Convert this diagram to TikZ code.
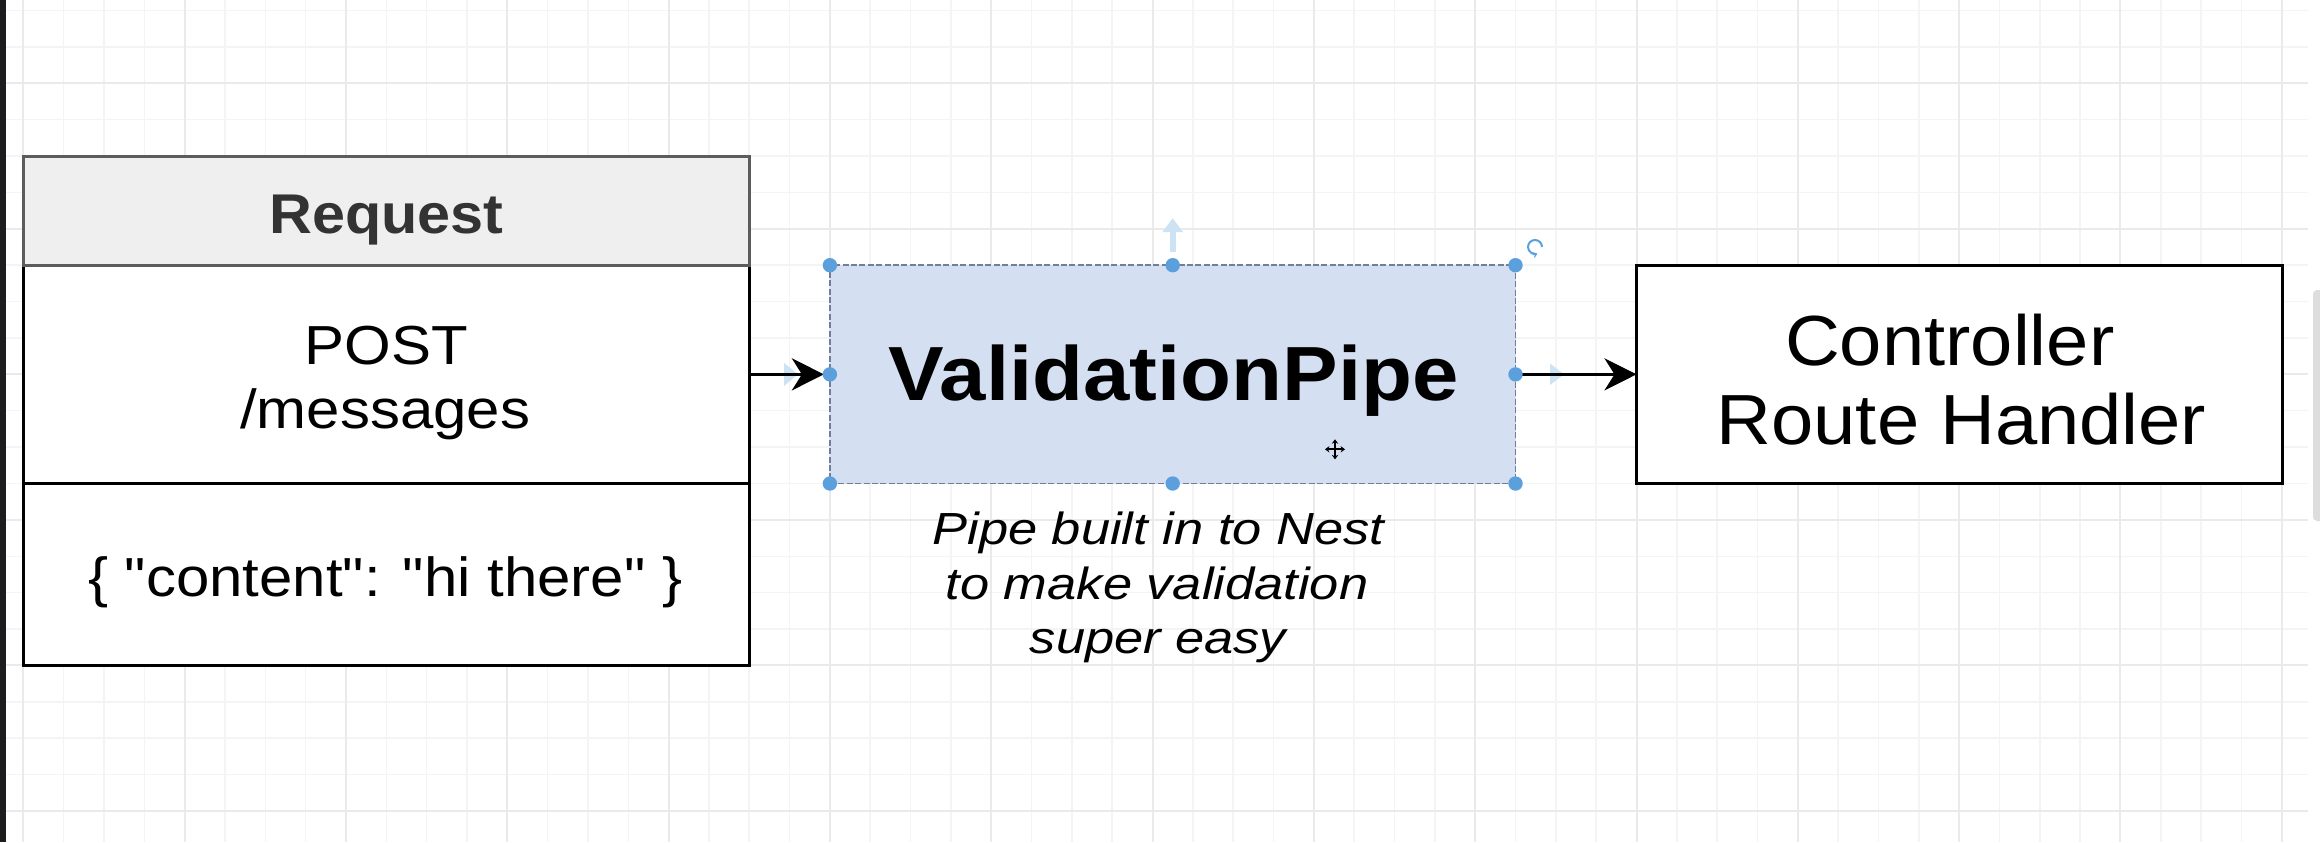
\documentclass[tikz,border=0pt]{standalone}
\usepackage{fontspec}
\setmainfont{Liberation Sans}
\newfontfamily\plainquotes{Liberation Sans}
\usetikzlibrary{arrows.meta}
\definecolor{gridminor}{RGB}{244,244,244}
\definecolor{gridmajor}{RGB}{234,234,234}
\definecolor{hdrfill}{RGB}{239,239,239}
\definecolor{hdrdraw}{RGB}{92,92,92}
\definecolor{pipefill}{RGB}{213,223,242}
\definecolor{pipedraw}{RGB}{112,126,156}
\definecolor{handle}{RGB}{91,160,220}
\definecolor{hint}{RGB}{205,226,243}
\definecolor{reqtext}{RGB}{51,51,51}
\definecolor{sidebar}{RGB}{28,28,30}
\definecolor{scroll}{RGB}{221,221,221}
\begin{document}
\begin{tikzpicture}[x=0.5pt,y=-0.5pt,
  box/.style={draw=black, line width=1.5pt, fill=white, inner sep=0pt, outer sep=0pt, anchor=north west},
  hdrbox/.style={box, draw=hdrdraw, fill=hdrfill},
  pipebox/.style={box, fill=pipefill, draw=pipedraw, line width=0.9pt, dash pattern=on 3pt off 1.2pt},
  txt/.style={inner sep=0pt, anchor=base, text=black},
  bodyfont/.style={font=\fontsize{27.5}{32}\selectfont, xscale=1.09},
  notefont/.style={font=\fontsize{22.5}{27}\selectfont\itshape, xscale=1.165},
  ctrlfont/.style={font=\fontsize{35.5}{40}\selectfont, xscale=1.07},
  conn/.style={draw=black, line width=1.75pt, -{Stealth[length=16pt, width=16pt, inset=5pt]}},
  minorline/.style={draw=gridminor, line width=0.75pt},
  majorline/.style={draw=gridmajor, line width=1pt},
  dot/.style={fill=handle},
]
% background and frame
\fill[white] (0,0) rectangle (2320,842);
\useasboundingbox (0,0) rectangle (2320,842);
% grid
\foreach \i in {0,...,56} {\draw[minorline] ({23.3+40.33*\i},0) -- ({23.3+40.33*\i},842);}
\foreach \j in {-2,...,20} {\draw[minorline] (6,{83.3+36.38*\j}) -- (2308,{83.3+36.38*\j});}
\foreach \i in {0,4,...,56} {\draw[majorline] ({23.3+40.33*\i},0) -- ({23.3+40.33*\i},842);}
\foreach \j in {0,4,...,20} {\draw[majorline] (6,{83.3+36.38*\j}) -- (2308,{83.3+36.38*\j});}
% screen chrome
\fill[sidebar] (0,0) rectangle (6,842);
\fill[scroll, rounded corners=2pt] (2313,290) rectangle (2324,521);

% Request table
\node[box, minimum width=363pt, minimum height=109.15pt] (reqbody) at (23.3,265.2) {};
\node[box, minimum width=363pt, minimum height=90.95pt] (reqjson) at (23.3,483.5) {};
\node[hdrbox, minimum width=363pt, minimum height=54.6pt] (reqhead) at (23.3,156) {};
\node[txt, text=reqtext, font=\fontsize{28}{32}\selectfont\bfseries, xscale=1.06] (reqlabel) at (386.3,233.3) {Request};
\node[txt, bodyfont] (postlabel) at (386.3,364.1) {POST};
\node[txt, bodyfont] (pathlabel) at (385.2,428.6) {/messages};
\node[txt, bodyfont] (jsonlabel) at (385.2,596.1) {\plainquotes \{ "content": "hi there" \}};

% ValidationPipe
\node[pipebox, minimum width=342.8pt, minimum height=109.15pt] (pipe) at (829.9,265.2) {};
\node[txt, font=\fontsize{38.4}{44}\selectfont\bfseries, xscale=1.085] (pipelabel) at (1173.6,400.7) {ValidationPipe};
\node[txt, notefont] (note1) at (1158.4,544.3) {Pipe built in to Nest};
\node[txt, notefont] (note2) at (1157,599.3) {to make validation};
\node[txt, notefont] (note3) at (1158,653.3) {super easy};

% Controller
\node[box, minimum width=323pt, minimum height=109.15pt] (ctrl) at (1636.5,265.2) {};
\node[txt, ctrlfont] (ctrl1) at (1949.7,365.2) {Controller};
\node[txt, ctrlfont] (ctrl2) at (1961.5,444.7) {Route Handler};

% faint hover hints
\fill[hint] (1169.7,231.7) rectangle (1175.7,252);
\fill[hint] (1172.7,218.3) -- (1183,232) -- (1162.4,232) -- cycle;
\fill[hint] (1564,374.3) -- (1550,363.5) -- (1550,385) -- cycle;
\fill[hint] (798,374.3) -- (784,363) -- (784,386) -- cycle;

% connectors
\draw[conn, shorten >=3pt] (reqbody.east) -- (pipe.west);
\draw[conn] (pipe.east) -- (ctrl.west);

% selection handles
\foreach \a in {north west, north, north east, west, east, south west, south, south east}
  {\fill[dot] (pipe.\a) circle[radius=3.6pt];}
% rotate handle
\coordinate (rot) at (1535,247);
\draw[handle, line width=1pt, -{Stealth[length=2.2pt,width=3.2pt]}] (rot) ++(3.5pt,0) arc[start angle=0, end angle=290, radius=3.5pt];
% move cursor
\coordinate (mv) at (1335,449.3);
\foreach \d in {0,90,180,270}
  {\draw[black, line width=1pt, -{Stealth[length=2.2pt,width=3.2pt]}] (mv) -- ++(\d:5pt);}
\end{tikzpicture}
\end{document}
